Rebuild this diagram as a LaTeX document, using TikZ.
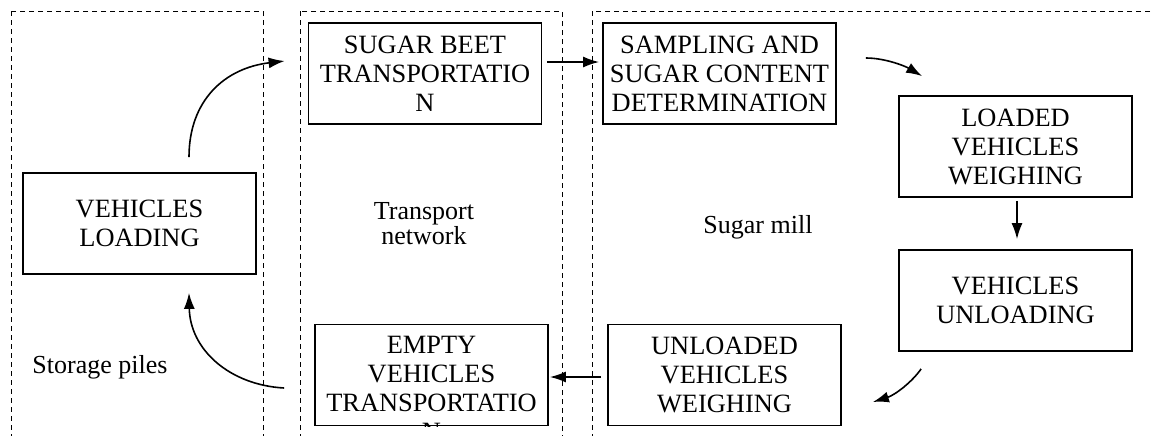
\documentclass[tikz,border=0pt]{standalone}
\usepackage{fontspec}
\setmainfont{Liberation Serif}
\usetikzlibrary{arrows.meta}
\begin{document}
\begin{tikzpicture}[x=0.5pt,y=-0.5pt,
  region/.style={draw=black,line width=0.5pt,dash pattern=on 2.5pt off 2pt},
  procbox/.style={draw=black,line width=0.9pt,minimum width=116.5pt,minimum height=50.5pt,inner sep=0pt,align=center,
    font=\fontsize{13.2}{14.5}\selectfont},
  lbl/.style={inner sep=0pt,align=center,font=\fontsize{13}{12.5}\selectfont},
  flow/.style={line width=0.8pt,-{Latex[length=8pt,width=5.5pt]}}]
\useasboundingbox (0,0) rectangle (1151,435);
\clip (0,0) rectangle (1151,435);
% regions
\draw[region] (11,11) rectangle (263,450);
\draw[region] (300,11) rectangle (562,450);
\draw[region] (592,11) rectangle (1170,450);
% boxes
\node[procbox] (load) at (139.5,223.5) {VEHICLES\\LOADING};
\node[procbox] (sbt) at (425,73.5) {SUGAR BEET\\TRANSPORTATIO\\N};
\node[procbox] (samp) at (719.5,73.5) {SAMPLING AND\\SUGAR CONTENT\\DETERMINATION};
\node[procbox] (lw) at (1015.5,146.5) {LOADED\\VEHICLES\\WEIGHING};
\node[procbox] (unl) at (1015.5,300.5) {VEHICLES\\UNLOADING};
\node[procbox] (uw) at (724.5,375) {UNLOADED\\VEHICLES\\WEIGHING};
\node[procbox] (evt) at (431.5,375) {};
\begin{scope}
\clip (evt.north west) rectangle (evt.south east);
\node[procbox,draw=none,minimum width=0pt,minimum height=0pt,anchor=north] (evttext) at (431.5,335) {EMPTY\\VEHICLES\\TRANSPORTATIO\\N};
\end{scope}
\node[procbox,fill=none] at (evt) {};
% labels
\node[lbl,anchor=north] (tn) at (424,202) {Transport\\network};
\node[lbl,anchor=base] (sm) at (758,233) {Sugar mill};
\node[lbl,anchor=base] (sp) at (100,373) {Storage piles};
% connector end points
\coordinate (a1s) at ([shift={(49.5,-15)}]load.north);
\coordinate (a1e) at ([shift={(-23,-12.5)}]sbt.west);
\coordinate (a2s) at ([shift={(5,-11.5)}]sbt.east);
\coordinate (a2e) at ([shift={(-3,-11.5)}]samp.west);
\coordinate (a3s) at ([shift={(29,-15.5)}]samp.east);
\coordinate (a3e) at ([shift={(24,-19)}]lw.north west);
\coordinate (a4s) at ([shift={(1.5,3)}]lw.south);
\coordinate (a4e) at ([shift={(1.5,-10)}]unl.north);
\coordinate (a5s) at ([shift={(23,17)}]unl.south west);
\coordinate (a5e) at ([shift={(31,27)}]uw.east);
\coordinate (a6s) at ([shift={(-6,2)}]uw.west);
\coordinate (a6e) at ([shift={(1,2)}]evt.east);
\coordinate (a7s) at ([shift={(-30,13)}]evt.west);
\coordinate (a7e) at ([shift={(49.5,18)}]load.south);
% connectors
\draw[flow] (a1s) .. controls (189,100) and (225,68) .. (a1e);
\draw[flow] (a2s) -- (a2e);
\draw[flow] (a3s) .. controls (885,58) and (905,66) .. (a3e);
\draw[flow] (a4s) -- (a4e);
\draw[flow] (a5s) .. controls (912,382) and (895,395) .. (a5e);
\draw[flow] (a6s) -- (a6e);
\draw[flow] (a7s) .. controls (230,385) and (190,350) .. (a7e);
\end{tikzpicture}
\end{document}
